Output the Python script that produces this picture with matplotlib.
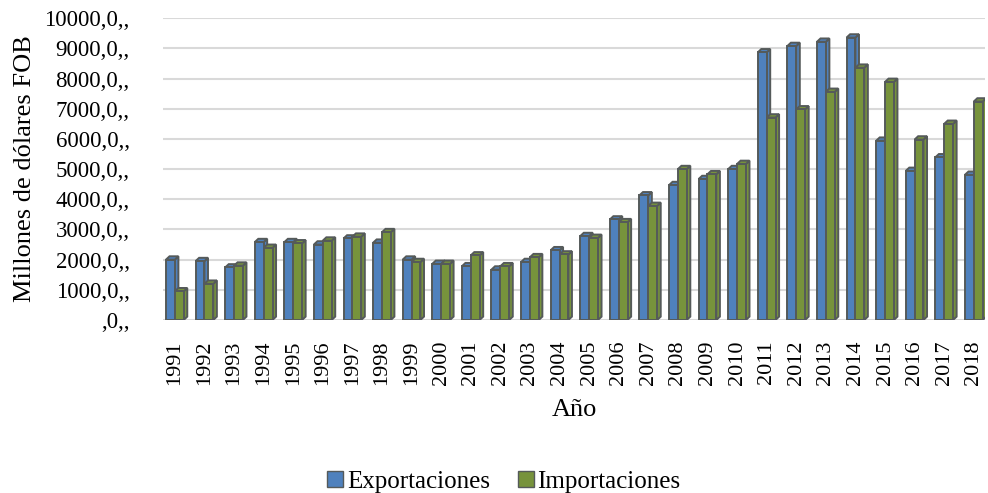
import numpy as np
import matplotlib.pyplot as plt
from matplotlib.patches import Polygon, Patch
from matplotlib.ticker import FuncFormatter

plt.rcParams['font.family'] = ['Liberation Serif', 'DejaVu Serif']

# Data (millones de dolares FOB)
years = [str(y) for y in range(1991, 2019)]
exportaciones = [2000, 1950, 1740, 2580, 2580, 2500, 2700, 2560, 2000, 1860,
                 1780, 1670, 1920, 2310, 2780, 3330, 4130, 4470, 4670, 5000,
                 8870, 9080, 9220, 9360, 5940, 4940, 5390, 4810]
importaciones = [950, 1200, 1800, 2390, 2540, 2630, 2760, 2910, 1920, 1860,
                 2140, 1780, 2080, 2170, 2720, 3240, 3780, 5000, 4830, 5170,
                 6710, 6980, 7560, 8360, 7890, 5980, 6500, 7240]

blue = '#4f81bd'
green = '#77933c'
edge = '#555a5a'

fig = plt.figure(figsize=(9.88, 4.93), dpi=100)
ax = fig.add_axes([0.165, 0.351, 0.832, 0.612])

x = np.arange(len(years))
w = 0.3
dx, dy = 0.12, 110  # fake 3D depth

def bars3d(xpos, vals, color):
    ax.bar(xpos, vals, width=w, color=color, edgecolor=edge, linewidth=1.4, zorder=3)
    for xc, v in zip(xpos, vals):
        x0, x1 = xc - w / 2, xc + w / 2
        side = Polygon([(x1, 0), (x1 + dx, dy), (x1 + dx, v + dy), (x1, v)],
                       closed=True, facecolor=color, edgecolor=edge, linewidth=1.4, zorder=2)
        top = Polygon([(x0, v), (x0 + dx, v + dy), (x1 + dx, v + dy), (x1, v)],
                      closed=True, facecolor=color, edgecolor=edge, linewidth=1.4, zorder=2)
        ax.add_patch(side)
        ax.add_patch(top)

bars3d(x - w / 2, exportaciones, blue)
bars3d(x + w / 2, importaciones, green)

ax.set_ylim(0, 10000)
ax.set_xlim(-0.4, len(years) - 0.62)
ax.set_yticks(np.arange(0, 10001, 1000))
ax.yaxis.set_major_formatter(FuncFormatter(lambda v, p: f"{int(v)},0,," if v else ",0,,"))
ax.set_xticks(x)
ax.set_xticklabels(years, rotation=90, fontsize=16)
ax.tick_params(axis='y', labelsize=16.5, length=0, pad=24)
ax.tick_params(axis='x', length=0, pad=15)
ax.grid(axis='y', color='#d9d9d9', linewidth=1.5, zorder=0)
for s in ax.spines.values():
    s.set_visible(False)

ax.set_ylabel('Millones de dólares FOB', fontsize=19, labelpad=6)
ax.set_xlabel('Año', fontsize=19, labelpad=10)

handles = [Patch(facecolor=blue, edgecolor=edge, label='Exportaciones'),
           Patch(facecolor=green, edgecolor=edge, label='Importaciones')]
fig.legend(handles=handles, loc='lower center', bbox_to_anchor=(0.51, -0.045), ncol=2,
           frameon=False, fontsize=18, handlelength=0.65, handleheight=0.65,
           handletextpad=0.15, columnspacing=1.1)

fig.savefig('out.png', dpi=100)
